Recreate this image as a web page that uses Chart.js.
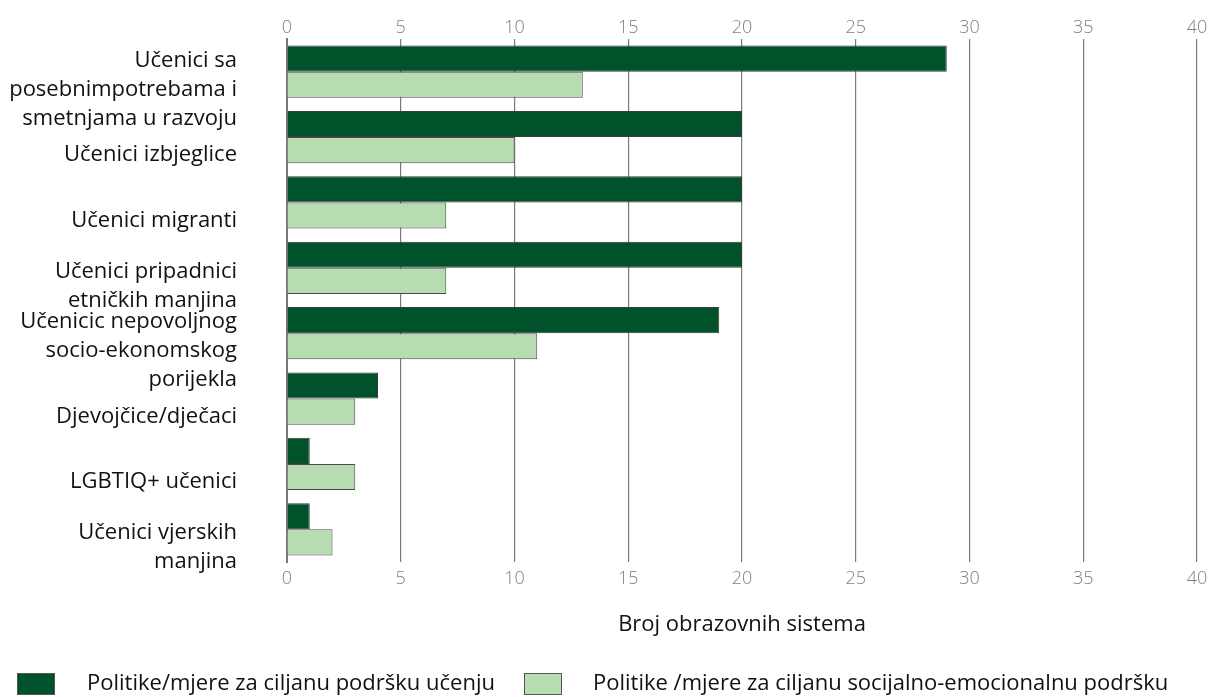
<!DOCTYPE html>
<html>
<head>
<meta charset="utf-8">
<title>Broj obrazovnih sistema</title>
<script src="https://cdn.jsdelivr.net/npm/chart.js@4/dist/chart.umd.min.js"></script>
<style>
  html, body { margin: 0; padding: 0; background: #fff; }
  canvas { display: block; }
</style>
</head>
<body>
<canvas id="myChart" width="1208" height="697"></canvas>
<script>
const categories = [
  ['Učenici sa', 'posebnimpotrebama i', 'smetnjama u razvoju'],
  'Učenici izbjeglice',
  'Učenici migranti',
  ['Učenici pripadnici', 'etničkih manjina'],
  ['Učenicic nepovoljnog', 'socio-ekonomskog', 'porijekla'],
  'Djevojčice/dječaci',
  'LGBTIQ+ učenici',
  ['Učenici vjerskih', 'manjina']
];
const ucenjeValues = [29, 20, 20, 20, 19, 4, 1, 1];
const emocionalnaValues = [13, 10, 7, 7, 11, 3, 3, 2];
const seriesNames = [
  'Politike/mjere za ciljanu podršku učenju',
  'Politike /mjere za ciljanu socijalno-emocionalnu podršku'
];
const axisTitle = 'Broj obrazovnih sistema';

// legend at the bottom, drawn by hand so box/text spacing can be controlled
const bottomLegend = {
  id: 'bottomLegend',
  afterDraw(chart) {
    const ctx = chart.ctx;
    const items = [
      { box: 17, text: 87 },
      { box: 524, text: 593 }
    ];
    ctx.save();
    ctx.font = '22px "Open Sans", sans-serif';
    ctx.textBaseline = 'middle';
    chart.data.datasets.forEach((ds, i) => {
      const it = items[i];
      ctx.fillStyle = ds.backgroundColor;
      ctx.fillRect(it.box, 673, 38, 22);
      ctx.strokeStyle = '#555';
      ctx.lineWidth = 1;
      ctx.strokeRect(it.box + 0.5, 673.5, 37, 21);
      ctx.fillStyle = '#111';
      ctx.fillText(ds.label, it.text, 684);
    });
    ctx.restore();
  }
};

// keep the last tick label from shrinking the plot on the right
function noSidePadding(scale) {
  scale.paddingRight = 0;
  scale.paddingLeft = 0;
}

var chartArea = document.getElementById('myChart').getContext('2d');
var myChart = new Chart(chartArea, {
  type: 'bar',
  data: {
    labels: categories,
    datasets: [{
      label: seriesNames[0],
      data: ucenjeValues,
      backgroundColor: '#00522B',
      borderColor: '#3a3a3a',
      borderWidth: 1,
      xAxisID: 'x'
    }, {
      label: seriesNames[1],
      data: emocionalnaValues,
      backgroundColor: '#B7DCB1',
      borderColor: '#4a4a4a',
      borderWidth: 1,
      xAxisID: 'x'
    }]
  },
  options: {
    indexAxis: 'y',
    responsive: false,
    animation: false,
    layout: { padding: { left: 0, right: 11, top: 0, bottom: 59 } },
    categoryPercentage: 0.8,
    barPercentage: 1.0,
    plugins: {
      legend: { display: false },
      tooltip: { enabled: false }
    },
    scales: {
      x: {
        position: 'bottom',
        min: 0,
        max: 40,
        ticks: {
          stepSize: 5,
          padding: 6,
          color: '#808080',
          font: { family: '"Open Sans", sans-serif', size: 18, weight: 300 }
        },
        grid: { color: '#7a7a7a', lineWidth: 1.2, drawTicks: false },
        border: { display: false },
        title: {
          display: true,
          text: axisTitle,
          color: '#111',
          padding: { top: 16, bottom: 0 },
          font: { family: '"Open Sans", sans-serif', size: 22 }
        },
        afterFit: noSidePadding
      },
      x2: {
        position: 'top',
        min: 0,
        max: 40,
        ticks: {
          stepSize: 5,
          padding: 0,
          color: '#808080',
          font: { family: '"Open Sans", sans-serif', size: 18, weight: 300 }
        },
        grid: { display: false, drawTicks: false },
        border: { display: false },
        afterFit(scale) {
          scale.height = 39;
          noSidePadding(scale);
        }
      },
      y: {
        ticks: {
          autoSkip: false,
          padding: 50,
          labelOffset: 18,
          color: '#111',
          font: { family: '"Open Sans", sans-serif', size: 22, lineHeight: 1.32 }
        },
        grid: { display: false, drawTicks: false },
        border: { display: true, color: '#777', width: 2 },
        afterFit(scale) {
          scale.width = 287;
          // multi-line labels would otherwise push the plot area inward
          scale.paddingTop = 0;
          scale.paddingBottom = 0;
        }
      }
    }
  },
  plugins: [bottomLegend]
});
</script>
</body>
</html>
